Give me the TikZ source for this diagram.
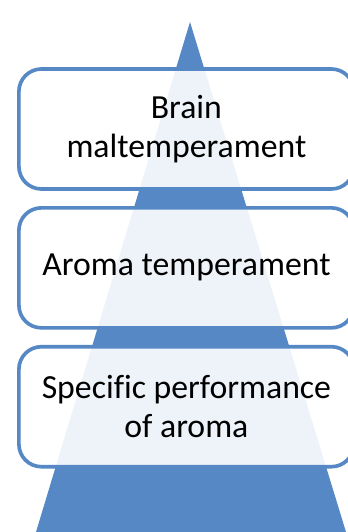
\documentclass[tikz,border=0pt]{standalone}
\usepackage{fontspec}
\setmainfont{Carlito}[Ligatures=NoCommon]
\usetikzlibrary{positioning}
\definecolor{pyrblue}{RGB}{85,136,196}

\begin{document}
\begin{tikzpicture}[
tier/.style={
  draw=pyrblue,
  line width=2.6pt,
  rounded corners=16pt,
  fill=white,
  fill opacity=0.9,
  text opacity=1,
  minimum width=8.375cm,
  minimum height=3cm,
  align=center,
  font=\fontsize{24}{28}\selectfont
},
node distance=3.8mm
]
\useasboundingbox (0,0) rectangle (8.7,13.3);
\fill[pyrblue] (0.9,0) -- (4.75,12.75) -- (8.65,0) -- cycle;

\node[tier] at (4.66,10.075)
  (brain) {Brain\\maltemperament};
\node[tier,below=of brain]
  (aroma) {Aroma temperament};
\node[tier,below=of aroma]
  (perf) {Specific performance\\of aroma};
\end{tikzpicture}
\end{document}
